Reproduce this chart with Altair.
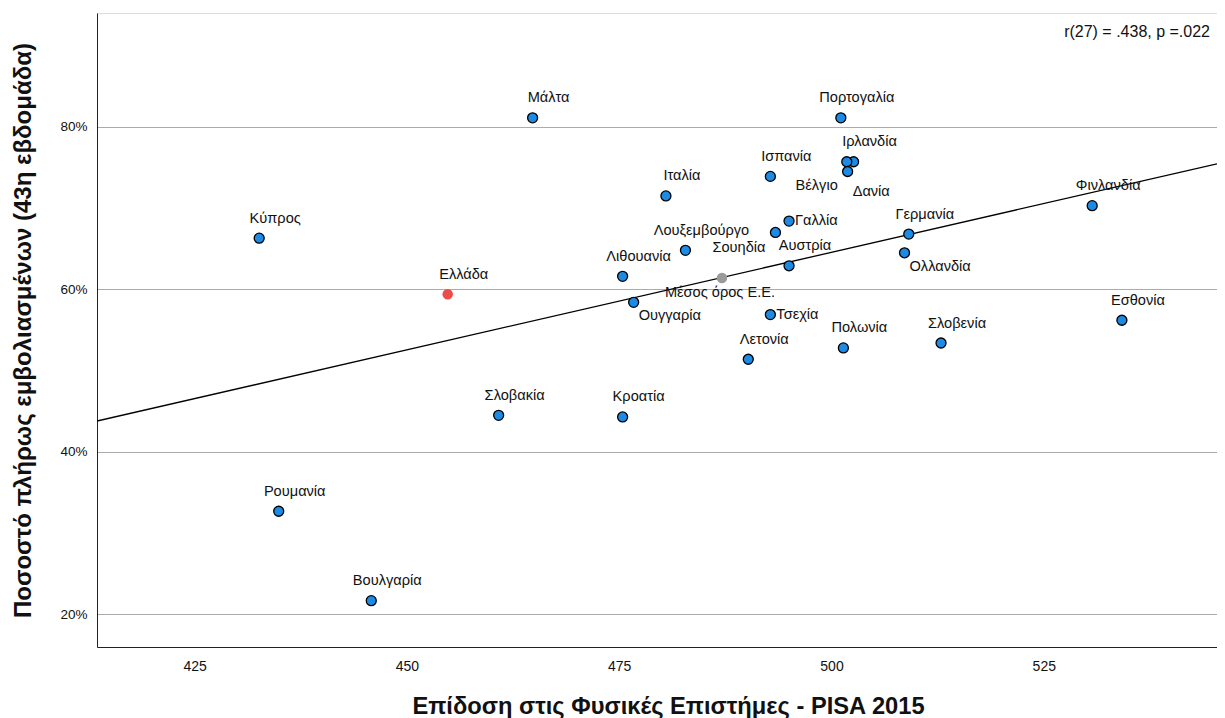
import altair as alt
import pandas as pd

# ---- data ----
countries = ["Μάλτα", "Πορτογαλία", "Ιρλανδία", "Βέλγιο", "Δανία", "Ισπανία", "Ιταλία",
             "Γαλλία", "Σουηδία", "Λουξεμβούργο", "Αυστρία", "Λιθουανία", "Ουγγαρία",
             "Τσεχία", "Λετονία", "Πολωνία", "Γερμανία", "Ολλανδία", "Φινλανδία",
             "Εσθονία", "Σλοβενία", "Κύπρος", "Ελλάδα", "Σλοβακία", "Κροατία",
             "Ρουμανία", "Βουλγαρία", "Μέσος όρος Ε.Ε."]
science = [464.8, 501.1, 502.6, 501.8, 501.9, 492.8, 480.5,
           495.0, 493.4, 482.8, 495.0, 475.4, 476.7,
           492.8, 490.2, 501.4, 509.1, 508.6, 530.7,
           534.2, 512.9, 432.6, 454.8, 460.8, 475.4,
           434.9, 445.8, 487.1]
vaccinated = [81.1, 81.1, 75.7, 75.7, 74.5, 73.9, 71.5,
              68.4, 67.0, 64.8, 62.9, 61.6, 58.4,
              56.9, 51.4, 52.8, 66.8, 64.5, 70.3,
              56.2, 53.4, 66.3, 59.4, 44.5, 44.3,
              32.7, 21.7, 61.4]
kind = ["country"] * 22 + ["greece"] + ["country"] * 4 + ["eu"]
placement = ["above", "above", "above", "belowleft2", "belowright2", "above", "above",
             "right", "belowleft", "above", "above", "above", "belowright",
             "right", "above", "above", "above", "belowright", "above",
             "above", "above", "above", "above", "above", "above",
             "above", "above", "below"]

# fit line endpoints (at the plot edges)
fit_x = [413.5, 545.4]
fit_y = [43.8, 75.45]

x_ticks = [425, 450, 475, 500, 525]
y_ticks = [20, 40, 60, 80]
stat_text = "r(27) = .438, p =.022"
x_title = "Επίδοση στις Φυσικές Επιστήμες - PISA 2015"
y_title = "Ποσοστό πλήρως εμβολιασμένων (43η εβδομάδα)"

df = pd.DataFrame({"country": countries, "science": science, "vacc": vaccinated,
                   "kind": kind, "pos": placement})
fit = pd.DataFrame({"science": fit_x, "vacc": fit_y})

# ---- styling ----
FONT = "Liberation Sans"
W, H = 1120, 634
X_DOM = [413.5, 545.4]
Y_DOM = [16, 94]

xs = alt.Scale(domain=X_DOM, nice=False, zero=False)
ys = alt.Scale(domain=Y_DOM, nice=False, zero=False)

x_enc = alt.X("science:Q", scale=xs, title=x_title,
              axis=alt.Axis(values=x_ticks, grid=False, ticks=False, labelPadding=12,
                            labelFontSize=14, labelColor="#111", labelFont=FONT,
                            titleFont=FONT, titleFontSize=23.7, titleFontWeight="bold",
                            titleColor="#111", titlePadding=21, titleX=571,
                            titleAlign="center",
                            domainColor="#222", domainWidth=1))
y_enc = alt.Y("vacc:Q", scale=ys, title=y_title,
              axis=alt.Axis(values=y_ticks, grid=True, gridColor="#ababab", gridWidth=1,
                            ticks=False, labelPadding=10, labelExpr="datum.value + '%'",
                            labelFontSize=13.5, labelColor="#111", labelFont=FONT,
                            titleFont=FONT, titleFontSize=24, titleFontWeight="bold",
                            titleColor="#111", titlePadding=24,
                            domainColor="#222", domainWidth=1))

line = alt.Chart(fit).mark_line(color="#000", strokeWidth=1.3, clip=True).encode(
    x=x_enc, y=y_enc)

pts = alt.Chart(df).transform_filter("datum.kind == 'country'").mark_point(
    filled=True, fill="#1d8ae3", stroke="#000", strokeWidth=1.3, size=100, opacity=1
).encode(x="science:Q", y="vacc:Q")

special = alt.Chart(df).transform_filter("datum.kind != 'country'").mark_circle(
    size=110, opacity=1
).encode(x="science:Q", y="vacc:Q",
         color=alt.Color("kind:N", scale=alt.Scale(domain=["greece", "eu"],
                                                   range=["#ee4b4b", "#9a9a9a"]),
                         legend=None))

placements = {
    "above": dict(dx=16, dy=-19.5, align="center"),
    "right": dict(dx=6, dy=0, align="left"),
    "below": dict(dx=-2, dy=15, align="center"),
    "belowright": dict(dx=5, dy=14, align="left"),
    "belowright2": dict(dx=5, dy=20, align="left"),
    "belowleft": dict(dx=-10, dy=16, align="right"),
    "belowleft2": dict(dx=-9, dy=24, align="right"),
}

labels = []
for name, p in placements.items():
    labels.append(
        alt.Chart(df).transform_filter(f"datum.pos == '{name}'").mark_text(
            font=FONT, fontSize=14.6, color="#111", baseline="middle", **p
        ).encode(x="science:Q", y="vacc:Q", text="country:N")
    )

stat = alt.Chart(pd.DataFrame({"t": [stat_text]})).mark_text(
    font=FONT, fontSize=16, color="#111", align="right", baseline="middle"
).encode(x=alt.value(W - 7), y=alt.value(18.5), text="t:N")

chart = alt.layer(line, pts, special, *labels, stat).properties(
    width=W, height=H,
    autosize=alt.AutoSizeParams(type="none"),
    padding={"left": 89, "top": 5, "right": 0, "bottom": 71},
).configure_view(stroke=None).configure(background="white")

chart.save("out.html", embed_options={"renderer": "svg", "actions": False})
